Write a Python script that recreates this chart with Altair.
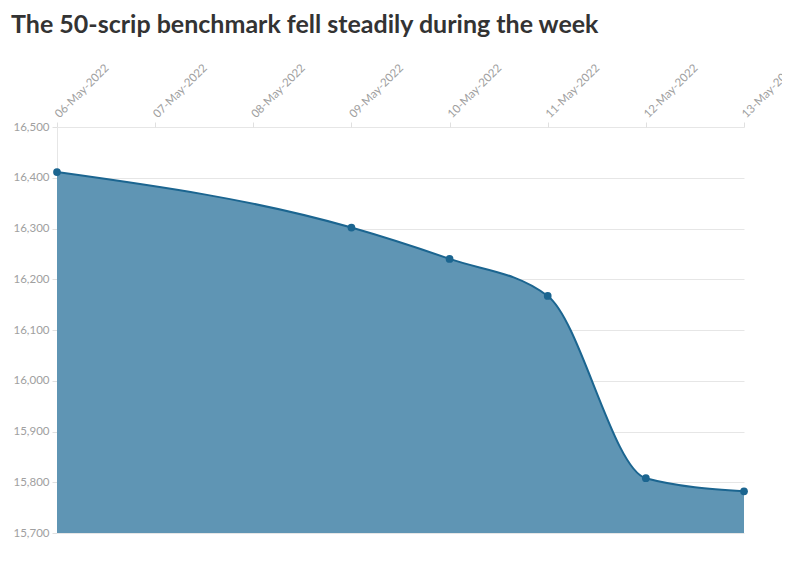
import altair as alt
import pandas as pd

dates = ["2022-05-06", "2022-05-09", "2022-05-10", "2022-05-11", "2022-05-12", "2022-05-13"]
values = [16411.25, 16301.85, 16240.05, 16167.10, 15808.00, 15782.15]
tick_days = [6, 7, 8, 9, 10, 11, 12, 13]
y_ticks = [15700, 15800, 15900, 16000, 16100, 16200, 16300, 16400, 16500]

df = pd.DataFrame({"date": dates, "value": values})

x = alt.X("date:T",
          scale=alt.Scale(type="utc", domain=[alt.DateTime(year=2022, month=5, date=6, utc=True),
                                              alt.DateTime(year=2022, month=5, date=13, utc=True)]),
          axis=alt.Axis(orient="top", values=[alt.DateTime(year=2022, month=5, date=d, utc=True) for d in tick_days],
                        format="%d-%b-%Y", labelAngle=-45, labelAlign="left", labelBaseline="middle",
                        labelColor="#a0a0a0", labelFontSize=11.5, labelFont="Lato", tickColor="#e0e0e0",
                        tickSize=5, domain=False, grid=False, title=None, labelPadding=6, labelOverlap=False,
                        labelBound=False, labelFlush=False))
y = alt.Y("value:Q",
          scale=alt.Scale(domain=[15700, 16500], zero=False, nice=False),
          axis=alt.Axis(values=y_ticks, format=",.0f", labelColor="#a0a0a0", labelFontSize=11.5, labelFont="Lato",
                        tickColor="#e0e0e0", tickSize=5, domainColor="#e6e6e6", gridColor="#e6e6e6",
                        title=None, labelPadding=3))

base = alt.Chart(df)
area = base.mark_area(interpolate="monotone", color="#5f95b4", opacity=1).encode(x=x, y=y, y2=alt.datum(15700))
line = base.mark_line(interpolate="monotone", color="#1b6590", strokeWidth=2).encode(x=x, y=y)
pts = base.mark_circle(color="#1b6590", size=60, opacity=1).encode(x=x, y=y)

chart = (area + line + pts).properties(
    width=687, height=406,
    title=alt.TitleParams("The 50-scrip benchmark fell steadily during the week", anchor="start",
                          font="Lato", fontSize=25, fontWeight="bold", color="#333333", offset=24, dx=-2),
    padding={"left": 49, "top": 119, "right": 38, "bottom": 10},
    autosize=alt.AutoSizeParams(type="none"),
).configure_view(stroke=None)

chart.save("out.html", embed_options={"renderer": "svg", "actions": False})
